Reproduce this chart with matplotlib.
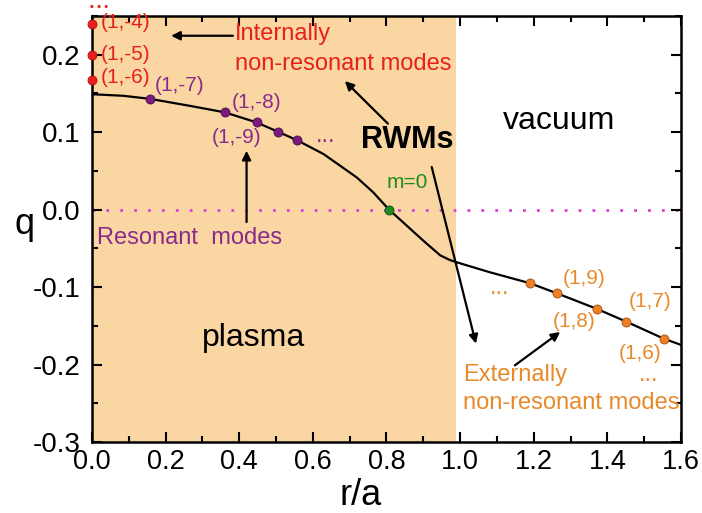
import numpy as np
import matplotlib
matplotlib.use("Agg")
import matplotlib.pyplot as plt
from matplotlib.ticker import MultipleLocator

plt.rcParams['font.family'] = ['Liberation Sans', 'DejaVu Sans']

# safety factor profile q(r/a)
r_prof = [0.0, 0.085, 0.158, 0.266, 0.361, 0.447, 0.505, 0.556, 0.629, 0.719,
          0.764, 0.807, 0.855, 0.900, 0.946, 0.972, 0.991, 1.082, 1.19, 1.263,
          1.371, 1.451, 1.553, 1.6]
q_prof = [0.149, 0.147, 0.143, 0.134, 0.1256, 0.1127, 0.1006, 0.0899, 0.0718, 0.0417,
          0.0224, 0.0, -0.0206, -0.040, -0.059, -0.065, -0.068, -0.081, -0.095, -0.108,
          -0.128, -0.1445, -0.1665, -0.1746]

# mode locations
internal_r = [0.0, 0.0, 0.0]
internal_q = [0.24, 0.2, 0.167]
internal_lbl = ["(1,-4)", "(1,-5)", "(1,-6)"]

resonant_r = [0.158, 0.361, 0.447, 0.505, 0.556]
resonant_q = [0.143, 0.1256, 0.1127, 0.1006, 0.0899]

external_r = [1.19, 1.263, 1.371, 1.451, 1.553]
external_q = [-0.095, -0.108, -0.128, -0.1445, -0.1665]

m0_r, m0_q = 0.807, 0.0
plasma_edge = 0.99

RED = '#e8201a'
PURPLE = '#7a1a7a'
PURPLE_TXT = '#8a2a8a'
ORANGE = '#ee7f22'
ORANGE_TXT = '#e8892a'
GREEN = '#1f8a1f'
FILL = '#fad6a3'

fig = plt.figure(figsize=(7.02, 5.13), dpi=100)
ax = fig.add_axes([0.131, 0.1384, 0.839, 0.8304])

ax.axvspan(0, plasma_edge, color=FILL, lw=0, zorder=0)
ax.axhline(0, color='#d840d8', lw=2, ls=(0, (1, 4)), zorder=1)
ax.plot(r_prof, q_prof, color='black', lw=1.6, zorder=2)

ax.plot(internal_r, internal_q, 'o', ms=6.5, color=RED, mec='#b01010', mew=0.6,
        clip_on=False, zorder=5)
ax.plot(resonant_r, resonant_q, 'o', ms=6.5, color=PURPLE, mec='#4a0a4a', mew=0.6, zorder=5)
ax.plot(external_r, external_q, 'o', ms=6.5, color=ORANGE, mec='#a05010', mew=0.6, zorder=5)
ax.plot([m0_r], [m0_q], 'o', ms=6.5, color=GREEN, mec='#0a4a0a', mew=0.6, zorder=5)

# higher internal modes continue above the frame
ax.plot([-0.004, 0.042], [0.263, 0.263], color=RED, lw=2, ls=(0, (1, 1.6)), clip_on=False)

# labels for the modes
for lbl, q in zip(internal_lbl, [0.241, 0.2, 0.17]):
    ax.text(0.024, q, lbl, color=RED, fontsize=15, va='center', ha='left')

ax.text(0.171, 0.16, "(1,-7)", color=PURPLE_TXT, fontsize=15, va='center')
ax.text(0.38, 0.138, "(1,-8)", color=PURPLE_TXT, fontsize=15, va='center')
ax.text(0.325, 0.093, "(1,-9)", color=PURPLE_TXT, fontsize=15, va='center')
ax.text(0.608, 0.0877, "...", color=PURPLE_TXT, fontsize=17, va='baseline')
ax.text(0.014, -0.036, "Resonant  modes", color=PURPLE_TXT, fontsize=17, va='center')

ax.text(0.389, 0.227, "Internally", color=RED, fontsize=17, va='center')
ax.text(0.389, 0.188, "non-resonant modes", color=RED, fontsize=17, va='center')

ax.text(0.80, 0.035, "m=0", color=GREEN, fontsize=15, va='center')

ax.text(1.28, -0.0895, "(1,9)", color=ORANGE_TXT, fontsize=15, va='center')
ax.text(1.252, -0.145, "(1,8)", color=ORANGE_TXT, fontsize=15, va='center')
ax.text(1.459, -0.118, "(1,7)", color=ORANGE_TXT, fontsize=15, va='center')
ax.text(1.432, -0.186, "(1,6)", color=ORANGE_TXT, fontsize=15, va='center')
ax.text(1.08, -0.109, "...", color=ORANGE_TXT, fontsize=17, va='baseline')
ax.text(1.487, -0.2215, "...", color=ORANGE_TXT, fontsize=17, va='baseline')
ax.text(1.008, -0.214, "Externally", color=ORANGE_TXT, fontsize=17, va='center')
ax.text(1.008, -0.250, "non-resonant modes", color=ORANGE_TXT, fontsize=17, va='center')

ax.text(0.856, 0.080, "RWMs", fontsize=22, fontweight='bold', ha='center', va='baseline')
ax.text(1.27, 0.1045, "vacuum", fontsize=23, ha='center', va='baseline')
ax.text(0.439, -0.1755, "plasma", fontsize=23, ha='center', va='baseline')

arrow = dict(arrowstyle='-|>', color='black', lw=1.6, mutation_scale=13,
             shrinkA=0, shrinkB=0)
ax.annotate("", xy=(0.215, 0.2245), xytext=(0.383, 0.2245), arrowprops=arrow)
ax.annotate("", xy=(0.687, 0.166), xytext=(0.804, 0.111), arrowprops=arrow)
ax.annotate("", xy=(1.043, -0.173), xytext=(0.923, 0.055), arrowprops=arrow)
ax.annotate("", xy=(0.42, 0.076), xytext=(0.42, -0.016), arrowprops=arrow)
ax.annotate("", xy=(1.272, -0.158), xytext=(1.149, -0.201), arrowprops=arrow)

ax.set_xlim(0, 1.6)
ax.set_ylim(-0.3, 0.25)
ax.xaxis.set_minor_locator(MultipleLocator(0.1))
ax.yaxis.set_minor_locator(MultipleLocator(0.05))
xt = np.arange(0, 1.61, 0.2)
yt = np.arange(-0.3, 0.21, 0.1)
ax.set_xticks(xt)
ax.set_xticklabels(["%.1f" % v for v in xt])
ax.set_yticks(yt)
ax.set_yticklabels(["%.1f" % v if abs(v) > 1e-9 else "0.0" for v in yt])
ax.tick_params(which='both', direction='in', top=True, right=True, width=1.5)
ax.tick_params(axis='y', labelsize=20, pad=8)
ax.tick_params(axis='x', labelsize=19.5, pad=5)
ax.tick_params(which='major', length=7)
ax.tick_params(which='minor', length=4)
for sp in ax.spines.values():
    sp.set_linewidth(1.8)

ax.set_xlabel("r/a", fontsize=26)
ax.set_ylabel("q", fontsize=26, rotation=0)
ax.xaxis.set_label_coords(0.457, -0.085)
ax.yaxis.set_label_coords(-0.114, 0.47)

fig.savefig("out.png", dpi=100)
